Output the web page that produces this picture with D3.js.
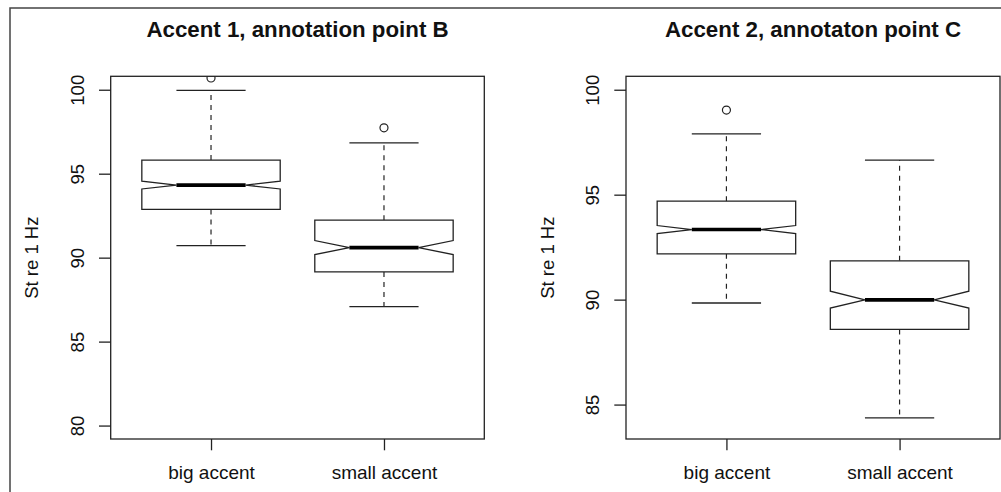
<!DOCTYPE html>
<html>
<head>
<meta charset="utf-8">
<script src="https://cdn.jsdelivr.net/npm/d3@7"></script>
<style>
  html, body { margin: 0; padding: 0; background: #fff; }
  svg { display: block; font-family: "Liberation Sans", Arial, Helvetica, sans-serif; }
</style>
</head>
<body>
<svg id="chart" width="1001" height="492"></svg>
<script>
// Group names and panel titles
const categories = ["big accent", "small accent"];
const titles = ["Accent 1, annotation point B", "Accent 2, annotaton point C"];
const yAxisLabel = "St re 1 Hz";

// y limits and tick values for each panel
const yLimits1 = [80, 100];
const yLimits2 = [84, 100];
const yTicks1 = [80, 85, 90, 95, 100];
const yTicks2 = [85, 90, 95, 100];

// Box statistics per group: [lower whisker, Q1, median, Q3, upper whisker]
const accent1Stats = [[90.72, 92.87, 94.32, 95.81, 99.96], [87.08, 89.15, 90.60, 92.23, 96.84]];
const accent2Stats = [[89.84, 92.18, 93.34, 94.69, 97.90], [84.37, 88.58, 89.99, 91.85, 96.65]];
// Notch limits per group: [lower, upper]
const accent1Notches = [[94.09, 94.55], [90.18, 91.02]];
const accent2Notches = [[93.15, 93.53], [89.60, 90.40]];
// Outlying values per group
const accent1Outliers = [[100.7], [97.73]];
const accent2Outliers = [[99.03], []];

const panels = [
  { title: titles[0], ylim: yLimits1, ticks: yTicks1, stats: accent1Stats, notches: accent1Notches, outliers: accent1Outliers, left: 110.7, right: 484.3 },
  { title: titles[1], ylim: yLimits2, ticks: yTicks2, stats: accent2Stats, notches: accent2Notches, outliers: accent2Outliers, left: 626, right: 1000 }
];
const plotTop = 76.3, plotBottom = 439;
const ink = "#222";

const svg = d3.select("#chart");
svg.append("rect").attr("width", 1001).attr("height", 492).attr("fill", "#fff");

// outer figure frame (left and top edges)
svg.append("path")
  .attr("d", "M10,492V8H1001")
  .attr("fill", "none").attr("stroke", "#444").attr("stroke-width", 1.5);

panels.forEach((p, i) => {
  const g = svg.append("g");
  const span = p.ylim[1] - p.ylim[0];
  const y = d3.scaleLinear()
    .domain([p.ylim[0] - 0.04 * span, p.ylim[1] + 0.04 * span])
    .range([plotBottom, plotTop]);
  const x = d3.scalePoint().domain(categories).range([p.left, p.right]).padding(0.58);
  const halfBox = 0.4 * x.step();

  const clipId = "clip" + i;
  svg.append("clipPath").attr("id", clipId)
    .append("rect")
    .attr("x", p.left).attr("y", plotTop)
    .attr("width", p.right - p.left).attr("height", plotBottom - plotTop);

  const marks = g.append("g").attr("clip-path", `url(#${clipId})`);

  categories.forEach((c, j) => {
    const [lo, q1, med, q3, hi] = p.stats[j];
    const [nLo, nHi] = p.notches[j];
    const cx = x(c);

    // dashed whiskers
    [[q3, hi], [q1, lo]].forEach(([a, b]) => {
      marks.append("line")
        .attr("x1", cx).attr("x2", cx)
        .attr("y1", y(a)).attr("y2", y(b))
        .attr("stroke", ink).attr("stroke-width", 1.2)
        .attr("stroke-dasharray", "5,5");
    });
    // whisker caps
    [lo, hi].forEach(v => {
      marks.append("line")
        .attr("x1", cx - halfBox / 2).attr("x2", cx + halfBox / 2)
        .attr("y1", y(v)).attr("y2", y(v))
        .attr("stroke", ink).attr("stroke-width", 1.3);
    });
    // notched box
    const pts = [
      [cx - halfBox, y(q1)], [cx - halfBox, y(nLo)], [cx - halfBox / 2, y(med)],
      [cx - halfBox, y(nHi)], [cx - halfBox, y(q3)], [cx + halfBox, y(q3)],
      [cx + halfBox, y(nHi)], [cx + halfBox / 2, y(med)], [cx + halfBox, y(nLo)],
      [cx + halfBox, y(q1)]
    ];
    marks.append("path")
      .attr("d", d3.line()(pts) + "Z")
      .attr("fill", "#fff").attr("stroke", ink).attr("stroke-width", 1.3)
      .attr("stroke-linejoin", "miter");
    // median
    marks.append("line")
      .attr("x1", cx - halfBox / 2).attr("x2", cx + halfBox / 2)
      .attr("y1", y(med)).attr("y2", y(med))
      .attr("stroke", "#000").attr("stroke-width", 3.6);
    // outliers
    p.outliers[j].forEach(v => {
      marks.append("circle")
        .attr("cx", cx).attr("cy", y(v)).attr("r", 4)
        .attr("fill", "none").attr("stroke", ink).attr("stroke-width", 1.2);
    });
  });

  // plot box
  g.append("rect")
    .attr("x", p.left).attr("y", plotTop)
    .attr("width", p.right - p.left).attr("height", plotBottom - plotTop)
    .attr("fill", "none").attr("stroke", ink).attr("stroke-width", 1.3);

  // y axis
  const yAxis = g.append("g")
    .attr("transform", `translate(${p.left},0)`)
    .call(d3.axisLeft(y).tickValues(p.ticks).tickSize(11.7).tickSizeOuter(0).tickFormat(d3.format("d")));
  yAxis.select(".domain").remove();
  yAxis.selectAll(".tick line").attr("stroke", ink).attr("stroke-width", 1.3);
  yAxis.selectAll(".tick text")
    .attr("x", null).attr("dy", null)
    .attr("transform", "translate(-27,0) rotate(-90)")
    .attr("text-anchor", "middle")
    .attr("fill", "#111")
    .style("font-size", "18.5px");

  // x axis
  const xAxis = g.append("g")
    .attr("transform", `translate(0,${plotBottom})`)
    .call(d3.axisBottom(x).tickSize(11.3).tickSizeOuter(0));
  xAxis.select(".domain").remove();
  xAxis.selectAll(".tick line").attr("stroke", ink).attr("stroke-width", 1.3);
  xAxis.selectAll(".tick text")
    .attr("y", 40).attr("dy", null)
    .attr("fill", "#111")
    .style("font-size", "19px");

  // y axis title
  g.append("text")
    .attr("transform", `translate(${p.left - 72.5},${(plotTop + plotBottom) / 2}) rotate(-90)`)
    .attr("text-anchor", "middle")
    .attr("fill", "#111")
    .style("font-size", "18.5px")
    .text(yAxisLabel);

  // panel title
  g.append("text")
    .attr("x", (p.left + p.right) / 2).attr("y", 37)
    .attr("text-anchor", "middle")
    .attr("fill", "#111")
    .style("font-size", "22.3px").style("font-weight", "bold")
    .text(p.title);
});
</script>
</body>
</html>
